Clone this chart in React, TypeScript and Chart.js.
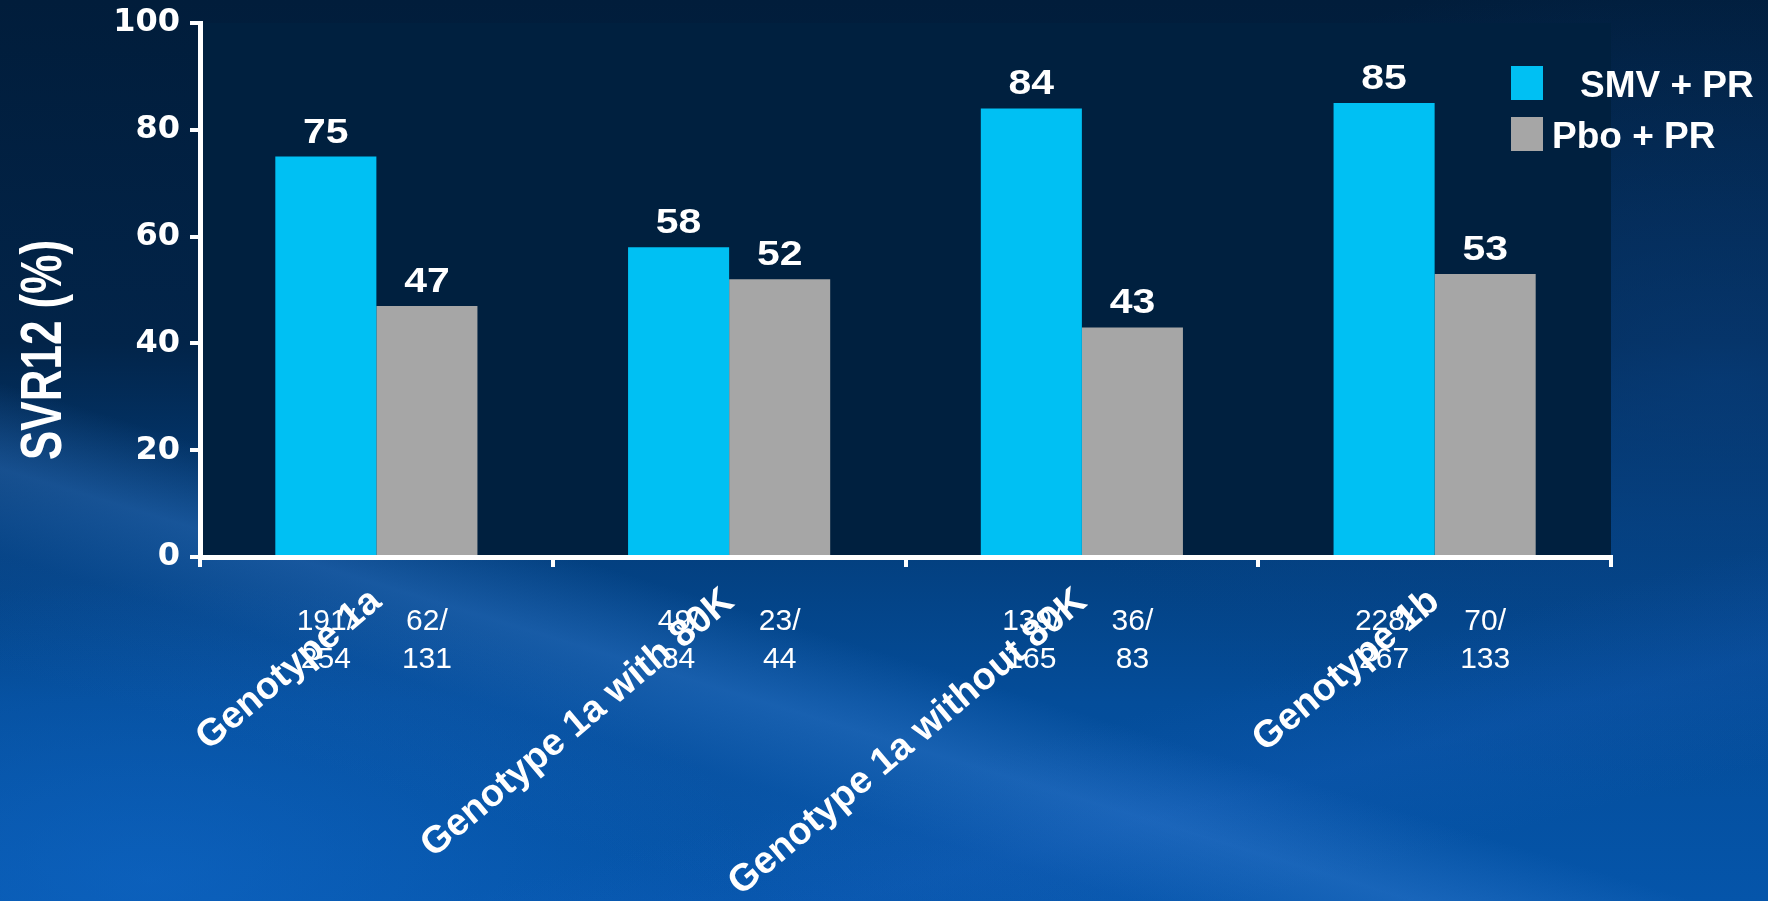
import React, { useEffect, useRef } from "react";
import { Chart, registerables } from "chart.js";

Chart.register(...registerables);

const categories = [
  "Genotype 1a",
  "Genotype 1a with 80K",
  "Genotype 1a without 80K",
  "Genotype 1b",
];
const seriesNames = ["SMV + PR", "Pbo + PR"];
const smvValues = [75, 58, 84, 85];
const pboValues = [47, 52, 43, 53];
const smvFractions = [
  ["191/", "254"],
  ["49/", "84"],
  ["139/", "165"],
  ["228/", "267"],
];
const pboFractions = [
  ["62/", "131"],
  ["23/", "44"],
  ["36/", "83"],
  ["70/", "133"],
];
const yTickValues = [0, 20, 40, 60, 80, 100];
const yTitle = "SVR12 (%)";

const FONT = "'Liberation Sans', Arial, Helvetica, sans-serif";
const NUM_FONT = "'DejaVu Sans', 'Liberation Sans', Arial, sans-serif";
const CYAN = "#00C0F3";
const GRAY = "#A6A6A6";
const PLOT_BG = "#00203F";

const plotBgPlugin = {
  id: "plotBg",
  beforeDraw(chart: any) {
    const { ctx, chartArea } = chart;
    ctx.save();
    ctx.fillStyle = PLOT_BG;
    ctx.fillRect(chartArea.left, chartArea.top, chartArea.right - chartArea.left, chartArea.bottom - chartArea.top);
    ctx.restore();
  },
};

const valueLabelPlugin = {
  id: "valueLabels",
  afterDatasetsDraw(chart: any) {
    const { ctx } = chart;
    ctx.save();
    ctx.fillStyle = "#FFFFFF";
    ctx.font = `bold 35px ${FONT}`;
    ctx.textAlign = "center";
    ctx.textBaseline = "alphabetic";
    chart.data.datasets.forEach((ds: any, di: number) => {
      const meta = chart.getDatasetMeta(di);
      meta.data.forEach((el: any, i: number) => {
        ctx.save();
        ctx.translate(el.x, el.y - 14);
        ctx.scale(1.17, 1);
        ctx.fillText(String(ds.data[i]), 0, 0);
        ctx.restore();
      });
    });
    ctx.restore();
  },
};

const fractionPlugin = {
  id: "fractions",
  afterDraw(chart: any) {
    const { ctx, chartArea } = chart;
    ctx.save();
    ctx.fillStyle = "#FFFFFF";
    ctx.font = `30px ${FONT}`;
    ctx.textAlign = "center";
    ctx.textBaseline = "alphabetic";
    chart.data.datasets.forEach((ds: any, di: number) => {
      const meta = chart.getDatasetMeta(di);
      const fr = ds.fractions as string[][];
      meta.data.forEach((el: any, i: number) => {
        ctx.fillText(fr[i][0], el.x, chartArea.bottom + 73);
        ctx.fillText(fr[i][1], el.x, chartArea.bottom + 111);
      });
    });
    ctx.restore();
  },
};

const legendPlugin = {
  id: "boxLegend",
  afterDraw(chart: any) {
    const { ctx, chartArea } = chart;
    const x0 = chartArea.right - 100;
    const y0 = chartArea.top + 43;
    const rowH = 51;
    const indents = [28, 0];
    ctx.save();
    ctx.font = `bold 37px ${FONT}`;
    ctx.textAlign = "left";
    ctx.textBaseline = "alphabetic";
    chart.data.datasets.forEach((ds: any, di: number) => {
      const y = y0 + di * rowH;
      ctx.fillStyle = ds.backgroundColor;
      ctx.fillRect(x0, y, 32, 34);
      ctx.fillStyle = "#FFFFFF";
      ctx.fillText(ds.label, x0 + 41 + indents[di], y + 31);
    });
    ctx.restore();
  },
};

const yTitlePlugin = {
  id: "yTitle",
  afterDraw(chart: any) {
    const { ctx, chartArea } = chart;
    ctx.save();
    ctx.translate(45, chartArea.top + 327);
    ctx.rotate(-Math.PI / 2);
    ctx.scale(1, 1.3);
    ctx.fillStyle = "#FFFFFF";
    ctx.font = `bold 44px ${FONT}`;
    ctx.textAlign = "center";
    ctx.textBaseline = "middle";
    ctx.fillText(yTitle, 0, 0);
    ctx.restore();
  },
};

export default function App() {
  const canvasRef = useRef<HTMLCanvasElement | null>(null);

  useEffect(() => {
    const canvas = canvasRef.current;
    if (!canvas) return;
    const chart = new Chart(canvas, {
      type: "bar",
      data: {
        labels: categories,
        datasets: [
          {
            label: seriesNames[0],
            data: smvValues,
            backgroundColor: CYAN,
            borderWidth: 0,
            categoryPercentage: 0.573,
            barPercentage: 1.0,
            fractions: smvFractions,
          } as any,
          {
            label: seriesNames[1],
            data: pboValues,
            backgroundColor: GRAY,
            borderWidth: 0,
            categoryPercentage: 0.573,
            barPercentage: 1.0,
            fractions: pboFractions,
          } as any,
        ],
      },
      options: {
        responsive: false,
        animation: false,
        devicePixelRatio: 1,
        layout: { padding: { top: 23, right: 157, left: 0, bottom: 0 } },
        plugins: {
          legend: { display: false },
          tooltip: { enabled: false },
          title: { display: false },
        },
        scales: {
          x: {
            type: "category",
            ticks: {
              color: "#FFFFFF",
              font: { family: FONT, size: 38, weight: "bold" },
              minRotation: 40,
              maxRotation: 40,
              autoSkip: false,
              padding: 12,
            },
            grid: {
              offset: true,
              drawOnChartArea: false,
              drawTicks: true,
              tickLength: 10,
              color: "#FFFFFF",
              lineWidth: 4,
            },
            border: { display: true, color: "#FFFFFF", width: 5 },
            afterFit: (s: any) => {
              s.height = 344;
              s.paddingLeft = 0;
              s.paddingRight = 0;
            },
          },
          y: {
            min: 0,
            max: 100,
            afterBuildTicks: (s: any) => {
              s.ticks = yTickValues.map((v) => ({ value: v }));
            },
            ticks: {
              color: "#FFFFFF",
              font: { family: NUM_FONT, size: 32, weight: "bold" },
              padding: 10,
            },
            grid: {
              drawOnChartArea: false,
              drawTicks: true,
              tickLength: 10,
              color: "#FFFFFF",
              lineWidth: 4,
            },
            border: { display: true, color: "#FFFFFF", width: 5 },
            afterFit: (s: any) => {
              s.width = 200;
              s.paddingTop = 0;
              s.paddingBottom = 0;
            },
          },
        },
      } as any,
      plugins: [plotBgPlugin, valueLabelPlugin, fractionPlugin, legendPlugin, yTitlePlugin],
    });
    return () => chart.destroy();
  }, []);

  return (
    <div
      style={{
        position: "fixed",
        left: 0,
        top: 0,
        width: 1768,
        height: 901,
        overflow: "hidden",
        background: [
          "linear-gradient(197deg, rgba(0,0,0,0) 64%, rgba(70,140,225,0.30) 70%, rgba(40,110,200,0.12) 76%, rgba(0,0,0,0) 84%)",
          "linear-gradient(165deg, rgba(0,0,0,0) 74%, rgba(30,100,200,0.18) 82%, rgba(0,0,0,0) 90%)",
          "radial-gradient(ellipse 700px 420px at 1720px 380px, rgba(10,70,140,0.55), rgba(0,0,0,0))",
          "radial-gradient(ellipse 600px 300px at 150px 880px, rgba(20,110,210,0.45), rgba(0,0,0,0))",
          "linear-gradient(180deg, #011d3b 0%, #022449 38%, #033d7a 58%, #044d9a 78%, #0555aa 100%)",
        ].join(", "),
      }}
    >
      <canvas ref={canvasRef} width={1768} height={901} style={{ display: "block" }} />
    </div>
  );
}
